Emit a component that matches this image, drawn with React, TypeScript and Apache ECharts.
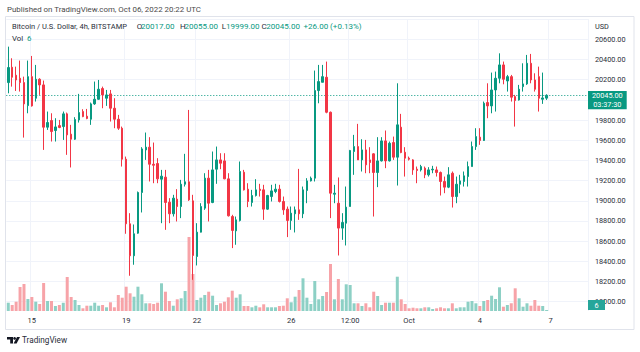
import React, { useEffect, useRef } from "react";
import * as echarts from "echarts";

// ---- data (4h candles, BTC/USD Bitstamp) ----
const opens = [
  20171, 20323, 20244, 20214, 20171, 19943, 20230, 20016, 20204, 20148,
  19729, 19795, 19696, 19745, 19735, 19861, 19660, 19610, 19801, 19884,
  19838, 19808, 19960, 20006, 20112, 20016, 20059, 19917, 19808, 19719,
  19412, 18772, 18455, 18679, 19082, 19504, 19531, 19362, 19369, 19214,
  19234, 18986, 18871, 19016, 18943, 19164, 19188, 18999, 18448, 18689,
  18927, 19224, 18983, 19313, 19405, 19395, 19217, 18844, 18702, 18805,
  19283, 19115, 18983, 19052, 19115, 19108, 18917, 19042, 19092, 19115,
  18993, 18917, 18805, 18871, 18910, 18871, 19102, 19197, 19224, 20092,
  20174, 20224, 19877, 19065, 18976, 18729, 18778, 18943, 19488, 19537,
  19405, 19504, 19405, 19465, 19280, 19395, 19593, 19395, 19577, 19432,
  19729, 19481, 19422, 19405, 19313, 19306, 19323, 19257, 19306, 19306,
  19280, 19191, 19135, 19273, 19042, 19164, 19191, 19240, 19339, 19537,
  19630, 19597, 19973, 19940, 20098, 20214, 20346, 20187, 20230, 20032,
  19999, 20131, 20158, 20362, 20197, 20230, 20006, 20017,
];
const closes = [
  20320, 20224, 20197, 20171, 19960, 20230, 19940, 20204, 20148, 19729,
  19775, 19686, 19732, 19726, 19861, 19653, 19610, 19805, 19874, 19834,
  19815, 19960, 20006, 20105, 20049, 20049, 19917, 19808, 19719, 19412,
  18772, 18455, 18673, 19082, 19514, 19531, 19362, 19352, 19217, 19244,
  18983, 18871, 19026, 18943, 19164, 19188, 19009, 18458, 18689, 18943,
  19224, 18976, 19306, 19405, 19372, 19217, 18851, 18706, 18811, 19290,
  19108, 18993, 19052, 19108, 19102, 18917, 19052, 19098, 19115, 18993,
  18910, 18805, 18877, 18910, 18871, 19108, 19197, 19224, 20092, 20181,
  20230, 19877, 19075, 19075, 18729, 18785, 18937, 19498, 19537, 19405,
  19504, 19356, 19379, 19280, 19395, 19593, 19395, 19570, 19432, 19752,
  19478, 19422, 19412, 19306, 19300, 19339, 19257, 19306, 19313, 19280,
  19191, 19135, 19257, 19042, 19164, 19197, 19247, 19339, 19537, 19636,
  19597, 19966, 19940, 20098, 20214, 20346, 20204, 20230, 20026, 19993,
  20105, 20158, 20362, 20197, 20105, 20016, 20019, 20045,
];
const lows = [
  20065, 20131, 20088, 20082, 19626, 19867, 19933, 19983, 20049, 19504,
  19702, 19587, 19587, 19719, 19603, 19455, 19330, 19603, 19775, 19828,
  19808, 19752, 19950, 20000, 19917, 19940, 19785, 19719, 19702, 19339,
  18673, 18257, 18366, 18673, 18884, 19405, 19191, 19174, 19174, 18778,
  18712, 18778, 18844, 18795, 18828, 19141, 18999, 18217, 18359, 18686,
  18910, 18795, 18976, 19168, 19313, 19214, 18844, 18531, 18564, 18795,
  19102, 18937, 18943, 19042, 19042, 18811, 18910, 18993, 19075, 18983,
  18861, 18640, 18712, 18686, 18811, 18828, 18976, 19191, 19191, 19966,
  20174, 19867, 18828, 18976, 18458, 18613, 18557, 18943, 19257, 19405,
  19290, 19273, 19273, 18844, 19135, 19389, 19323, 19389, 19405, 19151,
  19471, 19240, 19399, 19257, 19174, 19290, 19224, 19240, 19273, 19240,
  19052, 19075, 19125, 18933, 18976, 19075, 19141, 19141, 19339, 19504,
  19554, 19593, 19818, 19867, 19884, 20164, 20154, 20082, 19983, 19735,
  19993, 20082, 20148, 20164, 20082, 19884, 19960, 19999,
];
const highs = [
  20527, 20412, 20329, 20389, 20230, 20389, 20435, 20346, 20214, 20191,
  19884, 19867, 19818, 19801, 19884, 19874, 19752, 19828, 20059, 19907,
  19910, 19973, 20181, 20197, 20131, 20098, 20098, 20016, 19851, 19735,
  19438, 18877, 18765, 19092, 19531, 19676, 19630, 19577, 19422, 19306,
  19306, 19026, 19059, 19115, 19207, 19465, 19900, 19059, 18778, 18976,
  19273, 19306, 19488, 19537, 19471, 19471, 19273, 18861, 18844, 19389,
  19306, 19174, 19108, 19214, 19168, 19158, 19059, 19158, 19168, 19158,
  19042, 18943, 18943, 18943, 19316, 19141, 19224, 19240, 20290, 20346,
  20346, 20379, 19884, 19158, 19231, 18877, 19141, 19504, 19653, 19762,
  19610, 19603, 19531, 19471, 19630, 19630, 19696, 19587, 19636, 20164,
  19861, 19531, 19438, 19412, 19339, 19356, 19339, 19333, 19346, 19339,
  19290, 19240, 19333, 19290, 19240, 19257, 19290, 19389, 19587, 19719,
  19719, 19983, 20164, 20270, 20280, 20461, 20379, 20247, 20247, 20049,
  20148, 20362, 20445, 20455, 20263, 20329, 20270, 20055,
];
const volumes = [
  332, 240, 372, 960, 1080, 480, 560, 372, 280, 1120,
  400, 400, 200, 240, 332, 1360, 560, 440, 240, 108,
  212, 212, 332, 212, 240, 148, 348, 148, 640, 532,
  972, 708, 572, 972, 668, 308, 308, 280, 332, 1108,
  772, 400, 212, 468, 508, 800, 2960, 1480, 440, 532,
  640, 772, 612, 240, 308, 372, 548, 812, 532, 668,
  200, 200, 148, 212, 148, 268, 148, 148, 148, 200,
  212, 508, 348, 572, 840, 1308, 532, 280, 1200, 468,
  600, 760, 1880, 468, 1280, 468, 1068, 1040, 308, 308,
  200, 308, 148, 772, 600, 240, 332, 332, 332, 1372,
  468, 280, 108, 132, 108, 108, 148, 148, 80, 108,
  148, 108, 108, 308, 108, 148, 148, 372, 400, 308,
  200, 400, 440, 612, 480, 948, 172, 240, 308, 908,
  508, 172, 308, 212, 440, 212, 200, 6,
];
const tickIndex = [6, 30, 48, 72, 87, 102, 120, 138];
const tickLabels = ["15", "19", "22", "26", "12:00", "Oct", "4", "7"];
const emptyBarsRight = 10;
const firstBarTime = Date.UTC(2022, 8, 14, 0, 0);
const barMs = 4 * 3600 * 1000;
const priceMin = 18000;
const priceMax = 20800;
const priceStep = 200;
const hiddenPriceLabels = [20000, 20800];
const volumeMax = 3200;
const lastVolume = 6;
const countdown = "03:37:30";

const UP = "#089981";
const DOWN = "#f23645";
const VOL_UP = "#8dd0c5";
const VOL_DOWN = "#f7a3a8";
const GRID = "#f0f3fa";
const TEXT = "#2a2e39";
const FONT = "Roboto, 'Noto Sans', sans-serif";

export default function App() {
  const ref = useRef<HTMLDivElement>(null);
  useEffect(() => {
    document.body.style.margin = "0";
    const chart = echarts.init(ref.current!, null, { renderer: "svg" });
    const n = opens.length + emptyBarsRight;
    const cats: string[] = [];
    for (let i = 0; i < n; i++) {
      const d = new Date(firstBarTime + i * barMs);
      cats.push(d.toISOString().slice(5, 16));
    }
    const isTick = (i: number) => tickIndex.indexOf(i) >= 0;
    const last = opens.length - 1;
    const o = opens[last], h = highs[last], l = lows[last], c = closes[last];
    const prevClose = closes[last - 1];
    const chg = c - prevClose;
    const sign = chg >= 0 ? "+" : "";
    const chgTxt = sign + chg.toFixed(2) + " (" + sign + ((chg / prevClose) * 100).toFixed(2) + "%)";

    const gridLeft = 6.3;
    const gridRight = 52.1;

    const txt = (x: number, y: number, s: string, fill: string, size: number, extra: any = {}) => ({
      type: "text",
      x,
      y,
      z: 100,
      style: { text: s, fill, fontSize: size, fontFamily: FONT, verticalAlign: "middle", align: "left", ...extra },
    });

    chart.setOption({
      animation: false,
      backgroundColor: "#ffffff",
      grid: [
        { left: gridLeft, right: gridRight, top: 19.1, bottom: 50.3 },
        { left: gridLeft, right: gridRight, top: 231, bottom: 41 },
      ],
      xAxis: [
        {
          type: "category",
          gridIndex: 0,
          data: cats,
          boundaryGap: true,
          axisLine: { show: false },
          axisTick: { show: false },
          axisLabel: { show: false },
          splitLine: { show: true, interval: (i: number) => isTick(i), lineStyle: { color: GRID, width: 1 } },
        },
        {
          type: "category",
          gridIndex: 1,
          data: cats,
          boundaryGap: true,
          axisLine: { show: false },
          axisTick: { show: false },
          axisLabel: {
            show: true,
            interval: (i: number) => isTick(i),
            formatter: (_v: string, i: number) => {
              const k = tickIndex.indexOf(i);
              return k >= 0 ? tickLabels[k] : "";
            },
            color: TEXT,
            fontSize: 7.5,
            fontFamily: FONT,
            margin: 5,
          },
          splitLine: { show: true, interval: (i: number) => isTick(i), lineStyle: { color: GRID, width: 1 } },
        },
      ],
      yAxis: [
        {
          type: "value",
          gridIndex: 0,
          position: "right",
          min: priceMin,
          max: priceMax,
          interval: priceStep,
          axisLine: { show: false },
          axisTick: { show: false },
          axisLabel: {
            color: TEXT,
            fontSize: 7.3,
            fontFamily: FONT,
            margin: 7,
            formatter: (v: number) => (hiddenPriceLabels.indexOf(v) >= 0 ? "" : v.toFixed(2)),
          },
          splitLine: { show: true, lineStyle: { color: GRID, width: 1 } },
        },
        {
          type: "value",
          gridIndex: 1,
          min: 0,
          max: volumeMax,
          show: false,
          splitLine: { show: false },
        },
      ],
      series: [
        {
          type: "bar",
          xAxisIndex: 1,
          yAxisIndex: 1,
          barWidth: 3,
          barMinHeight: 1,
          data: volumes.map((v, i) => ({
            value: v,
            itemStyle: { color: closes[i] >= opens[i] ? VOL_UP : VOL_DOWN },
          })),
          z: 1,
        },
        {
          type: "candlestick",
          xAxisIndex: 0,
          yAxisIndex: 0,
          barWidth: 2,
          data: opens.map((op, i) => [op, closes[i], lows[i], highs[i]]),
          itemStyle: { color: UP, color0: DOWN, borderColor: UP, borderColor0: DOWN, borderWidth: 1 },
          z: 5,
          markLine: {
            silent: true,
            symbol: ["none", "none"],
            label: { show: false },
            lineStyle: { color: UP, type: [1, 2], width: 1 },
            data: [{ yAxis: c }],
          },
        },
      ],
      graphic: [
        {
          type: "rect",
          shape: { x: 5.5, y: 16.5, width: 628.5, height: 313 },
          style: { fill: "none", stroke: "#e0e3eb", lineWidth: 1 },
          z: 50,
        },
        txt(7, 9.3, "Published on TradingView.com, Oct 06, 2022 20:22 UTC", "#4a4a4a", 7.9),
        txt(12, 26, "Bitcoin / U.S. Dollar, 4h, BITSTAMP", TEXT, 7.5),
        txt(136.7, 26, "O", TEXT, 8),
        txt(141, 26, o.toFixed(2), UP, 8),
        txt(180, 26, "H", TEXT, 8),
        txt(184.5, 26, h.toFixed(2), UP, 8),
        txt(221.7, 26, "L", TEXT, 8),
        txt(226, 26, l.toFixed(2), UP, 8),
        txt(261.5, 26, "C", TEXT, 8),
        txt(266.3, 26, c.toFixed(2), UP, 8),
        txt(303.5, 26, chgTxt, UP, 8),
        txt(12, 38.6, "Vol", TEXT, 7.8),
        txt(27, 38.6, String(lastVolume), UP, 7.8),
        txt(595, 26.7, "USD", TEXT, 7.3),
        {
          type: "rect",
          shape: { x: 588, y: 91, width: 38.7, height: 18.3 },
          style: { fill: UP },
          z: 100,
        },
        txt(607.3, 95.7, c.toFixed(2), "#ffffff", 7.3, { align: "center" }),
        txt(607.3, 104.6, countdown, "#ffffff", 7.3, { align: "center" }),
        {
          type: "rect",
          shape: { x: 588, y: 300, width: 17, height: 10 },
          style: { fill: "#26a69a" },
          z: 100,
        },
        txt(596.5, 305.2, String(lastVolume), "#ffffff", 7.3, { align: "center" }),
        // TradingView logo
        {
          type: "polygon",
          shape: { points: [[7, 337], [13, 337], [13, 343.5], [10.2, 343.5], [10.2, 339.6], [7, 339.6]] },
          style: { fill: "#131722" },
          z: 100,
        },
        {
          type: "circle",
          shape: { cx: 14.6, cy: 338.4, r: 1.4 },
          style: { fill: "#131722" },
          z: 100,
        },
        {
          type: "polygon",
          shape: { points: [[17, 337], [20, 337], [16.6, 343.5], [13.6, 343.5]] },
          style: { fill: "#131722" },
          z: 100,
        },
        txt(22, 340.3, "TradingView", "#2a2e39", 8.2),
      ],
    });
    return () => chart.dispose();
  }, []);
  return <div ref={ref} style={{ width: 640, height: 352, background: "#fff" }} />;
}
